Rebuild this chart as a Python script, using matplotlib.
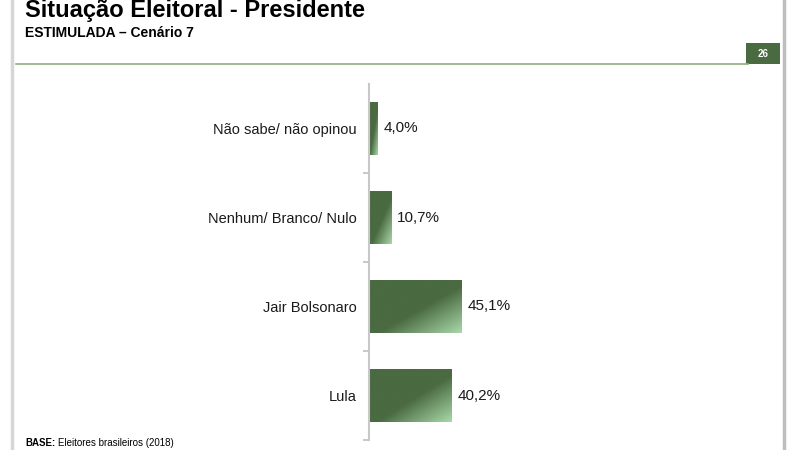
import matplotlib
matplotlib.use("Agg")
import matplotlib.pyplot as plt
import numpy as np
from matplotlib.colors import LinearSegmentedColormap
from matplotlib.patches import Rectangle

plt.rcParams['font.family'] = ['Liberation Sans', 'DejaVu Sans']

W, H, DPI = 800, 450, 100

categories = ["Não sabe/ não opinou", "Nenhum/ Branco/ Nulo", "Jair Bolsonaro", "Lula"]
values = [4.0, 10.7, 45.1, 40.2]
value_labels = ["4,0%", "10,7%", "45,1%", "40,2%"]

DARK = "#4a6a41"
LIGHT = "#a8d8a8"

fig = plt.figure(figsize=(W / DPI, H / DPI), dpi=DPI)
fig.patch.set_facecolor("white")


def fx(px):
    return px / W


def fy(py):
    return 1 - py / H


# slide frame
fig.add_artist(plt.Line2D([fx(12), fx(12)], [0, 1], color="#d6d6d6", lw=2.5))
fig.add_artist(plt.Line2D([fx(784), fx(784)], [0, 1], color="#bdbdbd", lw=2.5))
fig.add_artist(plt.Line2D([fx(16), fx(748)], [fy(64), fy(64)], color="#8fae7c", lw=1.2))
fig.add_artist(Rectangle((fx(746), fy(64)), fx(34), 21 / H, transform=fig.transFigure,
                         facecolor="#4a6a41", edgecolor="none"))
fig.text(fx(763), fy(54), "26", color="white", fontsize=7, fontweight="bold",
         ha="center", va="center")

fig.text(fx(25), fy(17), "Situação Eleitoral - Presidente", fontsize=17,
         fontweight="bold", ha="left", va="baseline")
fig.text(fx(25), fy(37), "ESTIMULADA – Cenário 7", fontsize=10,
         fontweight="bold", ha="left", va="baseline")

# footnote: bold "BASE:" followed by regular text on the same baseline
base = fig.text(fx(25), fy(446), "BASE:", fontsize=7, fontweight="bold", ha="left", va="baseline")
fig.canvas.draw()
bb = base.get_window_extent()
fig.text((bb.x1 + 3) / W, fy(446), "Eleitores brasileiros (2018)", fontsize=7,
         ha="left", va="baseline")

# axes
left_px, top_px, bottom_px = 369, 84, 440
xmax = 150
right_px = left_px + 2.06 * xmax
ax = fig.add_axes([fx(left_px), fy(bottom_px), (right_px - left_px) / W, (bottom_px - top_px) / H])

cmap = LinearSegmentedColormap.from_list("g", [(0, DARK), (0.55, DARK), (1, LIGHT)])
bar_h = 0.59
ys = np.arange(len(categories))
bars = ax.barh(ys, values, height=bar_h, color=DARK, edgecolor="none")

nx, ny = 200, 60
u = np.linspace(0, 1, nx)[None, :]
v = np.linspace(0, 1, ny)[:, None]
grad = (u + v) / 2
for b, val in zip(bars, values):
    y0 = b.get_y()
    im = ax.imshow(grad, cmap=cmap, extent=(0, val, y0 + bar_h, y0), origin="upper",
                   aspect="auto", zorder=2, vmin=0, vmax=1)
    im.set_clip_path(b)

for y, val, lab in zip(ys, values, value_labels):
    ax.text(val + 3, y, lab, va="center", ha="left", fontsize=11, color="#1a1a1a")

ax.set_xlim(0, xmax)
ax.set_ylim(len(categories) - 0.5, -0.5)
ax.set_yticks(ys)
ax.set_yticklabels(categories, fontsize=10.5, color="#1a1a1a")
ax.set_yticks(np.arange(len(categories)) + 0.5, minor=True)
ax.tick_params(axis="y", which="major", length=0, pad=9)
ax.tick_params(axis="y", which="minor", length=4, color="#bfbfbf", width=1.2)
ax.set_xticks([])
for s in ["top", "right", "bottom"]:
    ax.spines[s].set_visible(False)
ax.spines["left"].set_color("#c8c8c8")
ax.spines["left"].set_linewidth(1.5)
ax.set_facecolor("none")

fig.savefig("out.png", dpi=DPI, facecolor=fig.get_facecolor())
plt.close(fig)
